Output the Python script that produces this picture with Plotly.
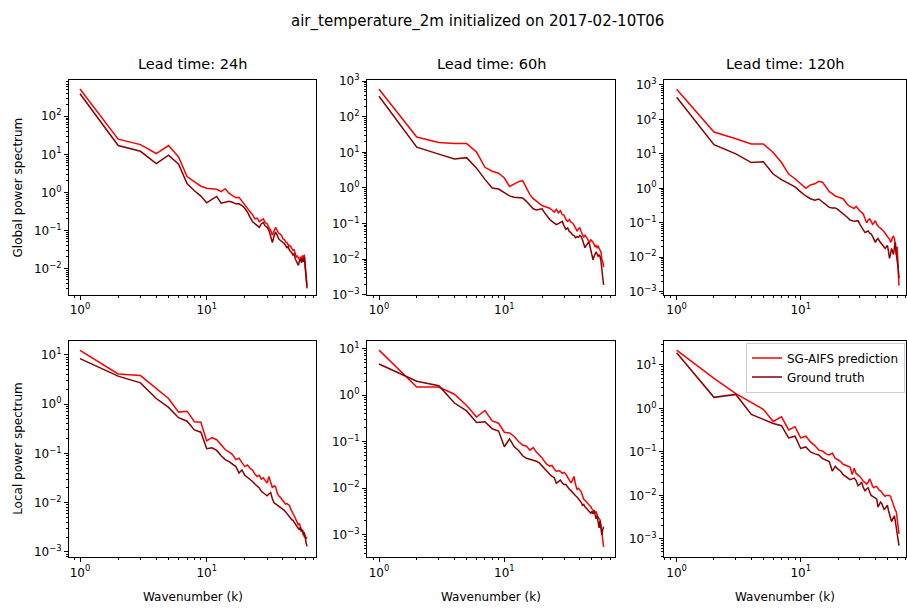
import plotly.graph_objects as go

# ---------------- data ----------------
k = list(range(1, 63))
lead_times = ["24h", "60h", "120h"]
row_labels = ["Global power spectrum", "Local power spectrum"]
series_names = ["SG-AIFS prediction", "Ground truth"]

pred_global_24 = [520, 25, 18, 10.5, 17, 8.5, 2.6, 1.9, 1.45, 1.28, 1.22, 1.2, 1.05, 1.25, 0.95, 0.82, 0.72, 0.74, 0.6, 0.47,
                  0.38, 0.31, 0.26, 0.2, 0.21, 0.17, 0.19, 0.2, 0.16, 0.15, 0.12, 0.1, 0.075, 0.095, 0.12, 0.1, 0.085, 0.08, 0.075, 0.06,
                  0.058, 0.05, 0.048, 0.042, 0.04, 0.038, 0.033, 0.03, 0.031, 0.025, 0.02, 0.021, 0.018, 0.017, 0.02, 0.018, 0.022, 0.016,
                  0.023, 0.012, 0.006, 0.0035]
truth_global_24 = [390, 17, 12, 5.7, 9.5, 5.5, 1.7, 1.1, 0.8, 0.53, 0.65, 0.78, 0.52, 0.56, 0.58, 0.55, 0.5, 0.5, 0.45, 0.38,
                   0.3, 0.22, 0.17, 0.15, 0.13, 0.12, 0.15, 0.16, 0.13, 0.12, 0.1, 0.065, 0.048, 0.07, 0.09, 0.075, 0.06, 0.055, 0.05, 0.048,
                   0.045, 0.04, 0.035, 0.038, 0.03, 0.028, 0.026, 0.022, 0.025, 0.018, 0.015, 0.013, 0.012, 0.016, 0.018, 0.014, 0.018, 0.015,
                   0.02, 0.01, 0.005, 0.003]

pred_global_60 = [590, 27, 19, 17.6, 17.6, 10.2, 3.8, 2.95, 2.6, 1.9, 1.1, 1.3, 1.5, 1.6, 0.95, 0.65, 0.5, 0.42, 0.36, 0.32,
                  0.3, 0.29, 0.27, 0.24, 0.21, 0.25, 0.2, 0.23, 0.18, 0.17, 0.13, 0.115, 0.13, 0.11, 0.104, 0.09, 0.075, 0.062, 0.07, 0.076,
                  0.06, 0.05, 0.041, 0.047, 0.043, 0.038, 0.032, 0.03, 0.035, 0.033, 0.03, 0.026, 0.022, 0.024, 0.021, 0.023, 0.02, 0.019,
                  0.016, 0.01, 0.0085, 0.006]
truth_global_60 = [375, 14, 8.9, 6.5, 7.1, 3.6, 1.74, 1.0, 0.93, 0.72, 0.6, 0.55, 0.53, 0.52, 0.42, 0.33, 0.26, 0.24, 0.25, 0.26,
                   0.2, 0.16, 0.13, 0.115, 0.1, 0.093, 0.1, 0.11, 0.115, 0.085, 0.069, 0.075, 0.06, 0.055, 0.048, 0.046, 0.04, 0.043, 0.041, 0.046,
                   0.043, 0.035, 0.028, 0.021, 0.024, 0.028, 0.03, 0.025, 0.018, 0.012, 0.0095, 0.012, 0.015, 0.016, 0.014, 0.012, 0.013, 0.012,
                   0.009, 0.006, 0.003, 0.0019]

pred_global_120 = [750, 43, 27.5, 19.5, 19.5, 11, 5.6, 2.6, 1.9, 1.35, 1.0, 1.25, 1.35, 1.6, 1.5, 1.1, 0.8, 0.7, 0.6, 0.56,
                   0.54, 0.5, 0.4, 0.33, 0.3, 0.28, 0.26, 0.3, 0.25, 0.22, 0.2, 0.18, 0.13, 0.1, 0.12, 0.13, 0.11, 0.09, 0.1, 0.115,
                   0.09, 0.08, 0.073, 0.07, 0.066, 0.06, 0.055, 0.05, 0.047, 0.04, 0.036, 0.034, 0.028, 0.03, 0.038, 0.04, 0.035, 0.02,
                   0.012, 0.02, 0.008, 0.0015]
truth_global_120 = [440, 18.6, 10, 5.6, 5.9, 2.6, 1.8, 1.35, 1.1, 0.79, 0.6, 0.5, 0.45, 0.49, 0.4, 0.32, 0.28, 0.27, 0.27, 0.24,
                    0.21, 0.18, 0.16, 0.14, 0.12, 0.113, 0.11, 0.113, 0.115, 0.09, 0.073, 0.06, 0.052, 0.055, 0.058, 0.05, 0.047, 0.04, 0.033, 0.027,
                    0.032, 0.035, 0.03, 0.027, 0.025, 0.022, 0.02, 0.018, 0.02, 0.022, 0.015, 0.0093, 0.012, 0.018, 0.015, 0.012, 0.02, 0.027,
                    0.012, 0.008, 0.005, 0.0025]

pred_local_24 = [12.4, 4.1, 3.8, 2.1, 1.3, 0.69, 0.72, 0.44, 0.43, 0.18, 0.21, 0.19, 0.15, 0.12, 0.107, 0.095, 0.075, 0.08, 0.065, 0.054,
                 0.058, 0.05, 0.046, 0.038, 0.034, 0.036, 0.03, 0.032, 0.028, 0.025, 0.034, 0.026, 0.02, 0.022, 0.021, 0.016, 0.0138, 0.013, 0.0118, 0.011,
                 0.01, 0.0094, 0.0096, 0.0092, 0.0088, 0.0075, 0.0069, 0.006, 0.0055, 0.0048, 0.0042, 0.004, 0.0035, 0.0038, 0.003, 0.0026, 0.0028, 0.0024,
                 0.002, 0.0021, 0.0019, 0.002]
truth_local_24 = [8.4, 3.7, 2.7, 1.3, 0.86, 0.53, 0.45, 0.3, 0.27, 0.125, 0.13, 0.115, 0.09, 0.075, 0.068, 0.06, 0.054, 0.04, 0.046, 0.036,
                  0.033, 0.03, 0.027, 0.024, 0.022, 0.02, 0.017, 0.016, 0.015, 0.0138, 0.015, 0.016, 0.012, 0.01, 0.0095, 0.009, 0.0088, 0.0082, 0.0078, 0.0075,
                  0.007, 0.0065, 0.006, 0.0055, 0.005, 0.0048, 0.0045, 0.0044, 0.004, 0.0037, 0.0035, 0.0032, 0.003, 0.0028, 0.0032, 0.0026, 0.0028, 0.0022,
                  0.0025, 0.0018, 0.0015, 0.0013]

pred_local_60 = [9.3, 1.5, 1.5, 1.05, 0.6, 0.34, 0.47, 0.28, 0.25, 0.16, 0.155, 0.13, 0.1, 0.085, 0.08, 0.066, 0.075, 0.06, 0.052, 0.045,
                 0.037, 0.032, 0.03, 0.031, 0.026, 0.023, 0.024, 0.023, 0.021, 0.022, 0.02, 0.017, 0.015, 0.013, 0.015, 0.018, 0.012, 0.0095, 0.01, 0.009,
                 0.0085, 0.007, 0.0058, 0.0055, 0.005, 0.0048, 0.0045, 0.0043, 0.004, 0.0036, 0.0034, 0.0032, 0.003, 0.0031, 0.0026, 0.0024, 0.0022, 0.0021,
                 0.0016, 0.001, 0.0007, 0.00055]
truth_local_60 = [4.7, 2.0, 1.6, 0.68, 0.46, 0.26, 0.27, 0.19, 0.17, 0.078, 0.115, 0.078, 0.065, 0.05, 0.044, 0.042, 0.04, 0.038, 0.035, 0.03,
                  0.026, 0.022, 0.02, 0.018, 0.017, 0.0128, 0.014, 0.015, 0.013, 0.012, 0.012, 0.0105, 0.0095, 0.0089, 0.008, 0.0075, 0.0069, 0.0065, 0.006, 0.0055,
                  0.005, 0.0043, 0.0045, 0.004, 0.0038, 0.0036, 0.0033, 0.0031, 0.0029, 0.0032, 0.0028, 0.0034, 0.0025, 0.0022, 0.0026, 0.0018, 0.0014, 0.002,
                  0.0012, 0.001, 0.0013, 0.0015]

pred_local_120 = [22, 4.9, 2.2, 1.34, 0.95, 0.5, 0.64, 0.32, 0.38, 0.21, 0.23, 0.17, 0.14, 0.11, 0.105, 0.09, 0.085, 0.094, 0.071, 0.066,
                  0.06, 0.052, 0.05, 0.047, 0.045, 0.03, 0.042, 0.032, 0.03, 0.027, 0.024, 0.021, 0.02, 0.018, 0.02, 0.024, 0.02, 0.016, 0.015, 0.016,
                  0.016, 0.014, 0.013, 0.0128, 0.012, 0.011, 0.01, 0.0095, 0.01, 0.01, 0.0098, 0.01, 0.0095, 0.008, 0.007, 0.006, 0.005, 0.0045,
                  0.0042, 0.003, 0.002, 0.0013]
truth_local_120 = [19, 1.8, 2.1, 0.73, 0.56, 0.45, 0.4, 0.21, 0.23, 0.12, 0.13, 0.1, 0.09, 0.085, 0.07, 0.066, 0.06, 0.036, 0.047, 0.04,
                   0.036, 0.03, 0.027, 0.025, 0.023, 0.024, 0.025, 0.022, 0.0166, 0.018, 0.02, 0.015, 0.0128, 0.014, 0.015, 0.012, 0.01, 0.0095, 0.009, 0.0085,
                   0.0083, 0.0054, 0.006, 0.007, 0.0065, 0.0055, 0.0048, 0.005, 0.0055, 0.006, 0.0045, 0.0035, 0.003, 0.0025, 0.0028, 0.0032, 0.0034, 0.0025,
                   0.0018, 0.0015, 0.001, 0.0007]

panels = [
    [(pred_global_24, truth_global_24), (pred_global_60, truth_global_60), (pred_global_120, truth_global_120)],
    [(pred_local_24, truth_local_24), (pred_local_60, truth_local_60), (pred_local_120, truth_local_120)],
]

major_exps = [-3, -2, -1, 0, 1, 2, 3]
major_vals = [10.0 ** e for e in major_exps]
major_text = ["10<sup>" + (("\u2212" + str(-e)) if e < 0 else str(e)) + "</sup>" for e in major_exps]
minor_vals = [m * 10.0 ** e for e in range(-4, 4) for m in range(2, 10)]

# ---------------- layout geometry (pixels) ----------------
W, H = 907, 609
col_px = [(69, 316), (367, 615), (664, 906)]
row_px = [(74, 294), (341, 563)]
x_ranges = [[-0.087, 1.863], [-0.096, 1.883], [-0.102, 1.849]]
y_ranges = [[[-2.692, 2.949], [-3.0, 3.027], [-3.09, 3.14]],
            [[-3.105, 1.29], [-3.48, 1.174], [-3.42, 1.56]]]

RED = "#ff0000"
DARK = "#8b0000"
FONT = "DejaVu Sans, sans-serif"

fig = go.Figure()
layout = {}
for r in range(2):
    for c in range(3):
        idx = r * 3 + c + 1
        sx = "" if idx == 1 else str(idx)
        pred, truth = panels[r][c]
        show = (r == 1 and c == 2)
        fig.add_trace(go.Scatter(x=k, y=pred, mode="lines", name=series_names[0],
                                 line=dict(color=RED, width=1.5), showlegend=show,
                                 xaxis="x" + sx, yaxis="y" + sx))
        fig.add_trace(go.Scatter(x=k, y=truth, mode="lines", name=series_names[1],
                                 line=dict(color=DARK, width=1.5), showlegend=show,
                                 xaxis="x" + sx, yaxis="y" + sx))
        x0, x1 = col_px[c]
        y0, y1 = row_px[r]
        common = dict(type="log", showline=True, mirror=True, linecolor="black", linewidth=1,
                      showgrid=False, zeroline=False, ticks="outside", ticklen=4, tickwidth=1,
                      tickcolor="black", tickfont=dict(family=FONT, size=12, color="black"),
                      tickmode="array", tickvals=major_vals, ticktext=major_text,
                      minor=dict(ticks="outside", ticklen=2, tickwidth=1, tickcolor="black",
                                 tickmode="array", tickvals=minor_vals, showgrid=False))
        layout["xaxis" + sx] = dict(common, domain=[x0 / W, x1 / W], range=x_ranges[c],
                                    anchor="y" + sx)
        layout["yaxis" + sx] = dict(common, domain=[1 - y1 / H, 1 - y0 / H], range=y_ranges[r][c],
                                    anchor="x" + sx)

annotations = []
annotations.append(dict(text="air_temperature_2m initialized on 2017-02-10T06", x=478 / W, y=1 - 14 / H,
                        xref="paper", yref="paper", showarrow=False, xanchor="center", yanchor="middle",
                        font=dict(family=FONT, size=15, color="black")))
for c in range(3):
    cx = (col_px[c][0] + col_px[c][1]) / 2 / W
    annotations.append(dict(text="Lead time: " + lead_times[c], x=cx, y=1 - 57 / H, xref="paper", yref="paper",
                            showarrow=False, xanchor="center", yanchor="middle",
                            font=dict(family=FONT, size=14.5, color="black")))
    annotations.append(dict(text="Wavenumber (k)", x=cx, y=1 - 604 / H, xref="paper", yref="paper",
                            showarrow=False, xanchor="center", yanchor="middle",
                            font=dict(family=FONT, size=12, color="black")))
for r in range(2):
    cy = 1 - (row_px[r][0] + row_px[r][1]) / 2 / H
    annotations.append(dict(text=row_labels[r], x=18 / W, y=cy, xref="paper", yref="paper",
                            showarrow=False, xanchor="center", yanchor="middle", textangle=-90,
                            font=dict(family=FONT, size=12, color="black")))

fig.update_layout(
    width=W, height=H, margin=dict(l=0, r=0, t=0, b=0),
    paper_bgcolor="white", plot_bgcolor="white",
    font=dict(family=FONT, size=12, color="black"),
    annotations=annotations,
    legend=dict(x=905 / W, y=1 - 343 / H, xanchor="right", yanchor="top",
                bgcolor="rgba(255,255,255,0.8)", bordercolor="#cccccc", borderwidth=1,
                font=dict(family=FONT, size=12, color="black"), tracegroupgap=0,
                itemwidth=30),
    **layout,
)

fig.write_html("out.html")
